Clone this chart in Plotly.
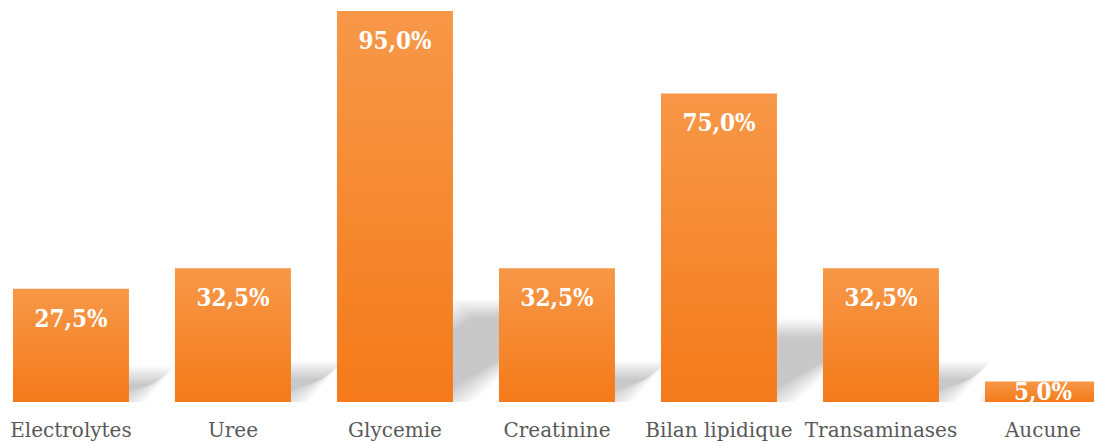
import plotly.graph_objects as go

# Exams requested (share of patients, %)
categories = ["Electrolytes", "Uree", "Glycemie", "Creatinine",
              "Bilan lipidique", "Transaminases", "Aucune"]
values = [27.5, 32.5, 95.0, 32.5, 75.0, 32.5, 5.0]
labels = [f"{v:.1f}%".replace(".", ",") for v in values]

# geometry / style
W, H = 1094, 443
MB = 41
X_RANGE = [-0.438, 6.315]
Y_RANGE = [0, 97.7]
BAR_HALF = 0.358
px_x = W / (X_RANGE[1] - X_RANGE[0])
px_y = (H - MB) / (Y_RANGE[1] - Y_RANGE[0])

SHADOW_H = 0.24      # shadow height relative to bar height
SHADOW_SKEW = 1.35   # horizontal shift per pixel of shadow height
BLUR = 9             # px
LAYERS = 11
layer_alpha = 1 - (1 - 0.21) ** (1 / LAYERS)

fig = go.Figure()

# perspective drop shadows (blurred by stacking translucent layers)
for i, v in enumerate(values):
    hs = SHADOW_H * v
    d = SHADOW_SKEW * hs * px_y / px_x
    xl, xr = i - BAR_HALF, i + BAR_HALF
    for k in range(LAYERS):
        e = -BLUR + 2 * BLUR * k / (LAYERS - 1)
        ex, ey = e / px_x, e / px_y
        xs = [xl - ex, xr + ex, xr + d + ex, xl + d - ex, xl - ex]
        ys = [-ey, -ey, hs + ey, hs + ey, -ey]
        fig.add_trace(go.Scatter(
            x=xs, y=ys, mode="lines", fill="toself",
            fillcolor=f"rgba(0,0,0,{layer_alpha:.4f})",
            line=dict(width=0), hoverinfo="skip", showlegend=False))

# bars with a vertical orange gradient
for i, v in enumerate(values):
    xl, xr = i - BAR_HALF, i + BAR_HALF
    fig.add_trace(go.Scatter(
        x=[xl, xr, xr, xl, xl], y=[0, 0, v, v, 0],
        mode="lines", fill="toself",
        fillgradient=dict(type="vertical",
                          colorscale=[[0, "#F47A1A"], [1, "#F79848"]]),
        line=dict(width=0), hoverinfo="skip", showlegend=False))

# value labels inside the top of each bar
LABEL_OFF = 32 / px_y
LABEL_MIN = 1.9
fig.add_trace(go.Scatter(
    x=list(range(len(values))),
    y=[max(v - LABEL_OFF, LABEL_MIN) for v in values],
    mode="text", text=labels, textposition="middle center",
    textfont=dict(family="DejaVu Serif Condensed, DejaVu Serif", size=24,
                  color="white", weight="bold"),
    cliponaxis=True, hoverinfo="skip", showlegend=False))

fig.update_layout(
    width=W, height=H,
    margin=dict(l=0, r=0, t=0, b=MB),
    plot_bgcolor="white", paper_bgcolor="white",
    showlegend=False,
    xaxis=dict(range=X_RANGE, tickvals=list(range(len(categories))),
               ticktext=categories, showgrid=False, zeroline=False,
               showline=False, ticks="outside", ticklen=10,
               tickcolor="rgba(0,0,0,0)",
               tickfont=dict(family="DejaVu Serif", size=20, color="#595959")),
    yaxis=dict(range=Y_RANGE, visible=False, showgrid=False, zeroline=False),
)

fig.write_html("out.html")
